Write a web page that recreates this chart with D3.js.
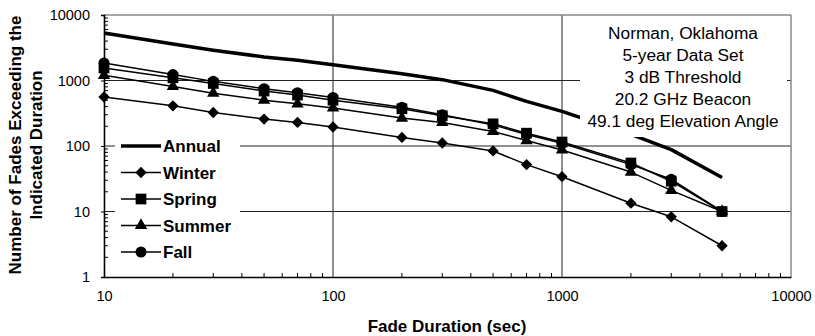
<!DOCTYPE html>
<html><head><meta charset="utf-8">
<script src="https://cdn.jsdelivr.net/npm/d3@7"></script>
<style>body{margin:0;background:#fff}svg{display:block;font-family:"Liberation Sans",Arial,sans-serif}</style>
</head><body><svg id="c" width="815" height="336"></svg>
<script>
const durations = [10,20,30,50,70,100,200,300,500,700,1000,2000,3000,5000];
const annual = [5300,3600,2900,2290,2030,1745,1270,1030,706,479,337,150,88,33];
const winter = [560,410,325,258,229,195,135,111,84,52,34,13.4,8.3,3];
const spring = [1550,1100,900,690,600,500,370,290,218,157,115,55,29,10];
const summer = [1200,810,640,500,440,380,267,229,167,121,87,40,21,10];
const fall   = [1850,1230,970,750,650,550,390,300,210,150,110,52,31,10];
const xTicks = [10,100,1000,10000];
const yTicks = [1,10,100,1000,10000];
const seriesNames = ["Annual","Winter","Spring","Summer","Fall"];
const noteLines = ["Norman, Oklahoma","5-year Data Set","3 dB Threshold","20.2 GHz Beacon","49.1 deg Elevation Angle"];
const xTitle = "Fade Duration (sec)";
const yTitle = ["Number of Fades Exceeding the","Indicated Duration"];

const svg = d3.select("#c");
const L=104,R=791,T=15,B=277;
const x = d3.scaleLog().domain([10,10000]).range([L,R]);
const y = d3.scaleLog().domain([1,10000]).range([B,T]);

// gridlines
const g = svg.append("g");
g.selectAll(".gy").data([10,100,1000]).join("line")
  .attr("x1",L).attr("x2",R).attr("y1",d=>y(d)).attr("y2",d=>y(d))
  .attr("stroke","#222").attr("stroke-width",1);
g.selectAll(".gx").data([100,1000]).join("line")
  .attr("y1",T).attr("y2",B).attr("x1",d=>x(d)).attr("x2",d=>x(d))
  .attr("stroke","#222").attr("stroke-width",1);
g.append("line").attr("x1",L).attr("x2",R).attr("y1",T).attr("y2",T).attr("stroke","#888").attr("stroke-width",1.5);
g.append("line").attr("x1",R).attr("x2",R).attr("y1",T).attr("y2",B).attr("stroke","#888").attr("stroke-width",1.5);

// minor ticks
const minorX=[], minorY=[];
for (let d=10; d<10000; d*=10) for (let k=2;k<=9;k++) minorX.push(d*k);
for (let d=1; d<10000; d*=10) for (let k=2;k<=9;k++) minorY.push(d*k);
g.selectAll(".mx").data(minorX).join("line").attr("x1",d=>x(d)).attr("x2",d=>x(d)).attr("y1",B).attr("y2",B-4).attr("stroke","#000");
g.selectAll(".my").data(minorY).join("line").attr("y1",d=>y(d)).attr("y2",d=>y(d)).attr("x1",L).attr("x2",L+4).attr("stroke","#000");

// axes
const xAxis = d3.axisBottom(x).tickValues(xTicks).tickFormat(d3.format("d")).tickSize(0).tickPadding(14);
const yAxis = d3.axisLeft(y).tickValues(yTicks).tickFormat(d3.format("d")).tickSize(3).tickPadding(11);
const gx = svg.append("g").attr("transform",`translate(0,${B})`).call(xAxis);
const gy = svg.append("g").attr("transform",`translate(${L},0)`).call(yAxis);
[gx,gy].forEach(a=>{a.select(".domain").attr("stroke","#000").attr("stroke-width",1.6);
  a.selectAll("text").attr("font-size",14.5).attr("fill","#000").attr("font-family","Liberation Sans, Arial, sans-serif");
  a.selectAll("line").attr("stroke","#000");});

// data
const data = [
  {name:"Annual", vals:annual, w:3.5, sym:null},
  {name:"Winter", vals:winter, w:1.5, sym:d3.symbolSquare, rot:45},
  {name:"Spring", vals:spring, w:1.5, sym:d3.symbolSquare, rot:0},
  {name:"Summer", vals:summer, w:1.5, sym:d3.symbolTriangle, rot:0},
  {name:"Fall", vals:fall, w:1.5, sym:d3.symbolCircle, rot:0}
];
const symSize = {Winter:64, Spring:115, Summer:66, Fall:95};
const line = d3.line().x(d=>x(d[0])).y(d=>y(d[1]));
const dg = svg.append("g");
data.forEach(s=>{
  const pts = durations.map((d,i)=>[d,s.vals[i]]);
  dg.append("path").attr("d",line(pts)).attr("fill","none").attr("stroke","#000").attr("stroke-width",s.w).attr("stroke-linejoin","round");
  if (s.sym) dg.selectAll(null).data(pts).join("path")
    .attr("d",d3.symbol().type(s.sym).size(symSize[s.name]))
    .attr("transform",d=>`translate(${x(d[0])},${y(d[1])}) rotate(${s.rot})`).attr("fill","#000");
});

// annotation box
svg.append("rect").attr("x",580).attr("y",17).attr("width",207).attr("height",120).attr("fill","#fff");
svg.append("g").selectAll("text").data(noteLines).join("text")
  .attr("x",683).attr("y",(d,i)=>39+i*21.9).attr("text-anchor","middle").attr("font-size",17.3).attr("fill","#000").text(d=>d);

// legend
svg.append("rect").attr("x",115).attr("y",134).attr("width",125).attr("height",131).attr("fill","#fff");
const lg = svg.append("g");
data.forEach((s,i)=>{
  const cy = 146 + i*26.5;
  lg.append("line").attr("x1",121).attr("x2",161).attr("y1",cy).attr("y2",cy).attr("stroke","#000").attr("stroke-width",s.w);
  if (s.sym) lg.append("path").attr("d",d3.symbol().type(s.sym).size(symSize[s.name])()).attr("transform",`translate(141,${cy}) rotate(${s.rot})`).attr("fill","#000");
  lg.append("text").attr("x",163).attr("y",cy+6).attr("font-size",17).attr("font-weight","bold").text(s.name);
});

// titles
svg.append("text").attr("x",447).attr("y",332).attr("text-anchor","middle").attr("font-size",17).attr("font-weight","bold").text(xTitle);
svg.append("g").attr("transform","translate(0,145) rotate(-90)").selectAll("text").data(yTitle).join("text")
  .attr("x",0).attr("y",(d,i)=>20.5+i*21.5).attr("text-anchor","middle").attr("font-size",17).attr("font-weight","bold").text(d=>d);
</script></body></html>
